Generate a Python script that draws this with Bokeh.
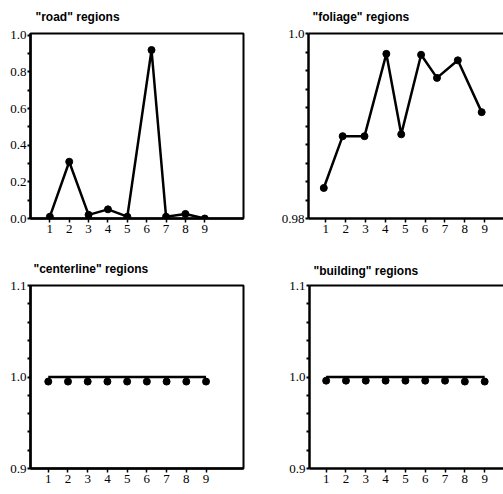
from bokeh.plotting import figure
from bokeh.layouts import column, row
from bokeh.models import FixedTicker, LinearAxis, Range1d
from bokeh.embed import file_html
from bokeh.resources import INLINE

# ---- data ----
x_ticks = [1, 2, 3, 4, 5, 6, 7, 8, 9]
x_labels = ["1", "2", "3", "4", "5", "6", "7", "8", "9"]

road_x = [1, 2, 3, 4, 5, 6.25, 7, 8, 9]
road_values = [0.01, 0.31, 0.02, 0.05, 0.01, 0.92, 0.01, 0.025, 0.0]

foliage_x = [0.9, 1.85, 2.95, 4.05, 4.8, 5.8, 6.6, 7.65, 8.85]
foliage_values = [0.9833, 0.9889, 0.9889, 0.9978, 0.9891, 0.9977, 0.9952, 0.9971, 0.9915]

centerline_x = [1, 2, 3, 4, 5, 6, 7, 8, 9]
centerline_line = [1.0, 1.0, 1.0, 1.0, 1.0, 1.0, 1.0, 1.0, 1.0]
centerline_values = [0.995, 0.995, 0.995, 0.995, 0.995, 0.995, 0.995, 0.995, 0.995]

building_x = [1, 2, 3, 4, 5, 6, 7, 8, 9]
building_line = [1.0, 1.0, 1.0, 1.0, 1.0, 1.0, 1.0, 1.0, 1.0]
building_values = [0.996, 0.996, 0.996, 0.996, 0.996, 0.996, 0.996, 0.995, 0.995]

road_yticks = [0.0, 0.2, 0.4, 0.6, 0.8, 1.0]
road_ylabels = ["0.0", "0.2", "0.4", "0.6", "0.8", "1.0"]
road_yminor = [0.1, 0.3, 0.5, 0.7, 0.9]

foliage_yticks = [0.98, 1.0]
foliage_ylabels = ["0.98", "1.0"]
foliage_yminor = [0.982, 0.984, 0.986, 0.988, 0.990, 0.992, 0.994, 0.996, 0.998]

unit_yticks = [0.9, 1.0, 1.1]
unit_ylabels = ["0.9", "1.0", "1.1"]
unit_yminor = [0.92, 0.94, 0.96, 0.98, 1.02, 1.04, 1.06, 1.08]

TICK_FONT = "Liberation Serif"
TITLE_FONT = "Liberation Sans"


def panel(title, xs, ys, line_ys, xr, yr, yticks, ylabels, yminor,
          w, h, bl, br, bt, bb, closed, toff, tstand):
    p = figure(width=w, height=h, x_range=Range1d(*xr), y_range=Range1d(*yr),
               output_backend="svg", toolbar_location=None,
               min_border_left=bl, min_border_right=br,
               min_border_top=bt, min_border_bottom=bb,
               background_fill_color="white", border_fill_color="white")
    p.grid.visible = False
    p.title.text = title
    p.title.text_font = TITLE_FONT
    p.title.text_font_size = "12px"
    p.title.text_font_style = "bold"
    p.title.text_color = "black"
    p.title.offset = toff
    p.title.standoff = tstand
    p.title.vertical_align = "top"

    xa = p.xaxis[0]
    xa.ticker = FixedTicker(ticks=x_ticks)
    xa.major_label_overrides = {t: l for t, l in zip(x_ticks, x_labels)}
    xa.major_label_text_font = TICK_FONT
    xa.major_label_text_font_size = "13px"
    xa.major_label_text_color = "black"
    xa.major_label_standoff = 2
    xa.major_tick_out = 4
    xa.major_tick_in = 0
    xa.major_tick_line_width = 1.5
    xa.minor_tick_line_color = None
    xa.axis_line_width = 2.5

    # all y ticks drawn as equal marks; only the main ones carry labels
    all_y = sorted(yticks + yminor)
    labels = {t: "" for t in yminor}
    labels.update({t: l for t, l in zip(yticks, ylabels)})
    ya = p.yaxis[0]
    ya.ticker = FixedTicker(ticks=all_y)
    ya.major_label_overrides = labels
    ya.major_label_text_font = TICK_FONT
    ya.major_label_text_font_size = "13px"
    ya.major_label_text_color = "black"
    ya.major_label_standoff = 1
    ya.major_tick_out = 3
    ya.major_tick_in = 0
    ya.major_tick_line_width = 2
    ya.minor_tick_line_color = None
    ya.axis_line_width = 2.5

    if closed:
        p.outline_line_color = "black"
        p.outline_line_width = 2
        p.outline_line_alpha = 1
    else:
        p.outline_line_color = None
        top = LinearAxis(ticker=FixedTicker(ticks=[]), axis_line_width=2,
                         major_tick_line_color=None, minor_tick_line_color=None,
                         major_label_text_font_size="0px")
        p.add_layout(top, "above")

    p.line(xs, line_ys, line_color="black", line_width=2.5)
    p.scatter(xs, ys, size=7, fill_color="black", line_color="black")
    return p


p1 = panel('"road" regions', road_x, road_values, road_values,
           (0, 11), (0, 1.01), road_yticks, road_ylabels, road_yminor,
           250, 250, 30, 7, 30, 32, True, 5, 15)
p2 = panel('"foliage" regions', foliage_x, foliage_values, foliage_values,
           (0.13, 9.95), (0.98, 1.0), foliage_yticks, foliage_ylabels, foliage_yminor,
           253, 250, 58, 0, 33, 32, False, 4, 15)
p3 = panel('"centerline" regions', centerline_x, centerline_values, centerline_line,
           (0.1, 10.9), (0.9, 1.1), unit_yticks, unit_ylabels, unit_yminor,
           250, 244, 30, 7, 32, 26, True, 3, 15)
p4 = panel('"building" regions', building_x, building_values, building_line,
           (0.16, 9.95), (0.9, 1.1), unit_yticks, unit_ylabels, unit_yminor,
           253, 244, 59, 0, 35, 21, False, 4, 12)

layout = column(row(p1, p2, spacing=0), row(p3, p4, spacing=0), spacing=0)

open("out.html", "w").write(file_html(layout, INLINE))
